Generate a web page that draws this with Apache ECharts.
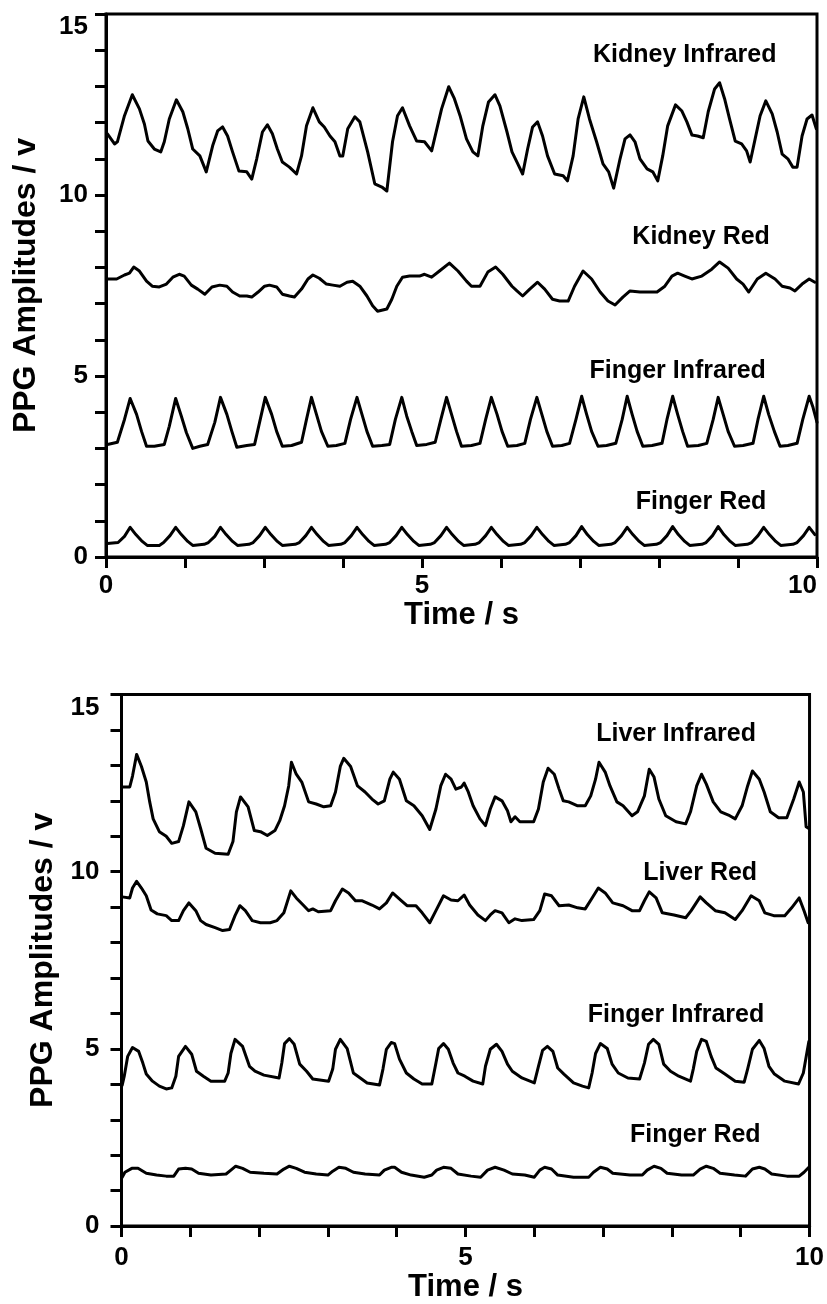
<!DOCTYPE html>
<html>
<head>
<meta charset="utf-8">
<script src="https://cdn.jsdelivr.net/npm/echarts@6/dist/echarts.min.js"></script>
<style>
html,body{margin:0;padding:0;background:#fff;}
#chart{width:827px;height:1304px;}
</style>
</head>
<body>
<div id="chart"></div>
<script>
// ---------- Data (time in s, amplitude in V) ----------
const kidneyInfrared = [[0.02,11.69],[0.12,11.41],[0.16,11.47],[0.26,12.19],[0.37,12.77],[0.47,12.38],[0.54,11.96],[0.59,11.49],[0.68,11.27],[0.77,11.19],[0.82,11.47],[0.89,12.10],[0.99,12.63],[1.08,12.30],[1.15,11.83],[1.22,11.27],[1.32,11.08],[1.41,10.64],[1.50,11.36],[1.57,11.77],[1.64,11.88],[1.71,11.63],[1.78,11.19],[1.87,10.66],[1.98,10.64],[2.05,10.44],[2.12,11.00],[2.20,11.74],[2.27,11.94],[2.34,11.69],[2.41,11.27],[2.48,10.91],[2.58,10.77],[2.68,10.58],[2.75,11.08],[2.82,11.91],[2.91,12.41],[3.00,12.02],[3.07,11.88],[3.15,11.63],[3.22,11.47],[3.29,11.08],[3.33,11.08],[3.40,11.83],[3.50,12.16],[3.57,12.02],[3.68,11.19],[3.78,10.31],[3.88,10.22],[3.95,10.11],[4.03,11.47],[4.10,12.19],[4.17,12.41],[4.27,11.91],[4.37,11.49],[4.48,11.47],[4.58,11.22],[4.62,11.55],[4.72,12.38],[4.82,12.99],[4.90,12.66],[4.98,12.19],[5.07,11.55],[5.16,11.19],[5.23,11.08],[5.30,11.91],[5.38,12.57],[5.47,12.77],[5.54,12.46],[5.64,11.74],[5.71,11.19],[5.78,10.91],[5.86,10.58],[5.93,11.27],[6.00,11.88],[6.07,12.02],[6.14,11.63],[6.21,11.08],[6.31,10.58],[6.43,10.53],[6.49,10.39],[6.57,11.08],[6.64,12.10],[6.72,12.71],[6.80,12.10],[6.90,11.47],[6.99,10.86],[7.07,10.64],[7.14,10.19],[7.23,11.00],[7.30,11.55],[7.37,11.66],[7.44,11.47],[7.51,11.00],[7.61,10.72],[7.69,10.64],[7.76,10.39],[7.83,11.08],[7.90,11.91],[8.01,12.49],[8.10,12.32],[8.17,12.02],[8.24,11.66],[8.32,11.63],[8.40,11.58],[8.47,12.30],[8.56,12.93],[8.63,13.10],[8.70,12.66],[8.77,12.10],[8.85,11.49],[8.94,11.41],[9.01,11.22],[9.06,10.91],[9.13,11.55],[9.20,12.19],[9.28,12.60],[9.37,12.24],[9.44,11.74],[9.51,11.13],[9.59,11.00],[9.66,10.77],[9.72,10.77],[9.79,11.63],[9.86,12.10],[9.93,12.21],[9.99,11.83]];

const kidneyRed = [[0.02,7.68],[0.15,7.68],[0.26,7.79],[0.33,7.84],[0.39,8.01],[0.47,7.90],[0.57,7.62],[0.65,7.48],[0.75,7.46],[0.85,7.54],[0.94,7.73],[1.03,7.81],[1.10,7.76],[1.20,7.51],[1.29,7.40],[1.39,7.26],[1.49,7.46],[1.60,7.51],[1.70,7.48],[1.78,7.32],[1.88,7.21],[1.98,7.21],[2.05,7.18],[2.14,7.32],[2.23,7.48],[2.30,7.51],[2.40,7.46],[2.48,7.26],[2.58,7.21],[2.65,7.18],[2.75,7.40],[2.84,7.68],[2.91,7.79],[3.00,7.70],[3.10,7.54],[3.19,7.51],[3.29,7.48],[3.39,7.59],[3.47,7.62],[3.57,7.48],[3.67,7.21],[3.75,6.94],[3.82,6.79],[3.95,6.85],[4.02,7.12],[4.09,7.48],[4.17,7.73],[4.27,7.76],[4.41,7.76],[4.48,7.81],[4.58,7.73],[4.69,7.90],[4.83,8.12],[4.95,7.90],[5.07,7.62],[5.14,7.48],[5.26,7.48],[5.37,7.87],[5.48,8.01],[5.58,7.81],[5.71,7.48],[5.78,7.35],[5.86,7.21],[5.96,7.40],[6.07,7.59],[6.17,7.40],[6.28,7.12],[6.38,7.07],[6.50,7.07],[6.59,7.48],[6.71,7.90],[6.83,7.68],[6.95,7.32],[7.06,7.07],[7.16,6.96],[7.27,7.18],[7.37,7.35],[7.51,7.32],[7.61,7.32],[7.75,7.32],[7.86,7.48],[7.96,7.76],[8.04,7.84],[8.14,7.76],[8.24,7.68],[8.38,7.76],[8.52,7.95],[8.63,8.15],[8.75,7.98],[8.87,7.68],[8.96,7.54],[9.04,7.32],[9.16,7.68],[9.28,7.84],[9.41,7.68],[9.51,7.48],[9.62,7.43],[9.69,7.35],[9.79,7.54],[9.89,7.68],[9.97,7.59]];

const fingerInfraredTop = [[0.02,3.11],[0.16,3.17],[0.26,3.80],[0.34,4.38],[0.43,3.94],[0.50,3.47],[0.57,3.06],[0.68,3.06],[0.82,3.11],[0.89,3.61],[0.98,4.38],[1.06,3.89],[1.13,3.44],[1.22,3.00],[1.32,3.06],[1.43,3.11],[1.53,3.72],[1.61,4.41],[1.70,3.94],[1.77,3.47],[1.84,3.03],[1.98,3.08],[2.09,3.11],[2.16,3.72],[2.24,4.41],[2.33,3.94],[2.40,3.47],[2.48,3.06],[2.61,3.08],[2.75,3.17],[2.82,3.80],[2.89,4.41],[2.96,3.94],[3.03,3.47],[3.12,3.06],[3.24,3.08],[3.36,3.14],[3.44,3.80],[3.53,4.41],[3.60,3.94],[3.67,3.47],[3.75,3.06],[3.88,3.08],[3.99,3.11],[4.07,3.80],[4.16,4.41],[4.23,3.89],[4.30,3.47],[4.37,3.08],[4.51,3.11],[4.63,3.17],[4.71,3.80],[4.79,4.41],[4.86,3.94],[4.93,3.47],[5.00,3.06],[5.14,3.08],[5.26,3.14],[5.34,3.80],[5.42,4.41],[5.50,3.94],[5.57,3.47],[5.65,3.06],[5.78,3.08],[5.89,3.14],[5.97,3.80],[6.06,4.41],[6.13,3.94],[6.20,3.47],[6.28,3.06],[6.41,3.08],[6.52,3.14],[6.61,3.80],[6.69,4.44],[6.76,3.94],[6.83,3.47],[6.92,3.06],[7.04,3.08],[7.17,3.14],[7.26,3.80],[7.33,4.44],[7.40,3.94],[7.47,3.47],[7.55,3.06],[7.68,3.08],[7.82,3.14],[7.89,3.80],[7.97,4.44],[8.04,3.94],[8.11,3.47],[8.18,3.06],[8.33,3.08],[8.45,3.14],[8.54,3.80],[8.61,4.41],[8.68,3.94],[8.75,3.47],[8.84,3.06],[8.96,3.08],[9.10,3.14],[9.17,3.80],[9.25,4.44],[9.32,3.94],[9.40,3.47],[9.48,3.06],[9.59,3.08],[9.72,3.14],[9.80,3.80],[9.89,4.44],[9.94,4.16],[10.0,3.72]];

const fingerRedTop = [[0.02,0.37],[0.17,0.40],[0.26,0.57],[0.34,0.82],[0.42,0.62],[0.51,0.43],[0.58,0.32],[0.75,0.32],[0.81,0.40],[0.90,0.59],[0.98,0.82],[1.06,0.62],[1.15,0.43],[1.22,0.32],[1.38,0.35],[1.44,0.40],[1.53,0.57],[1.61,0.82],[1.69,0.62],[1.78,0.43],[1.85,0.32],[2.01,0.35],[2.07,0.40],[2.16,0.59],[2.24,0.82],[2.32,0.62],[2.41,0.43],[2.48,0.32],[2.66,0.35],[2.72,0.40],[2.81,0.59],[2.89,0.82],[2.97,0.62],[3.06,0.43],[3.13,0.32],[3.30,0.35],[3.36,0.40],[3.45,0.59],[3.53,0.82],[3.61,0.62],[3.70,0.43],[3.77,0.32],[3.93,0.35],[3.99,0.40],[4.08,0.59],[4.16,0.82],[4.24,0.62],[4.33,0.43],[4.40,0.32],[4.56,0.35],[4.62,0.40],[4.71,0.59],[4.79,0.82],[4.87,0.62],[4.96,0.43],[5.03,0.32],[5.19,0.35],[5.25,0.40],[5.34,0.59],[5.42,0.82],[5.50,0.62],[5.59,0.43],[5.66,0.32],[5.83,0.35],[5.89,0.40],[5.98,0.59],[6.06,0.82],[6.14,0.62],[6.23,0.43],[6.30,0.32],[6.46,0.35],[6.52,0.40],[6.61,0.59],[6.69,0.84],[6.77,0.62],[6.86,0.43],[6.93,0.32],[7.10,0.35],[7.16,0.40],[7.25,0.59],[7.33,0.82],[7.41,0.62],[7.50,0.43],[7.57,0.32],[7.74,0.35],[7.80,0.40],[7.89,0.59],[7.97,0.84],[8.05,0.62],[8.14,0.43],[8.21,0.32],[8.38,0.35],[8.44,0.40],[8.53,0.59],[8.61,0.84],[8.69,0.62],[8.78,0.43],[8.85,0.32],[9.02,0.35],[9.08,0.40],[9.17,0.59],[9.25,0.82],[9.33,0.62],[9.42,0.43],[9.49,0.32],[9.66,0.35],[9.72,0.40],[9.81,0.59],[9.89,0.82],[9.97,0.62]];

const liverInfrared = [[0.01,12.39],[0.12,12.39],[0.16,12.70],[0.22,13.31],[0.29,12.97],[0.36,12.53],[0.41,11.97],[0.46,11.49],[0.55,11.13],[0.65,11.00],[0.73,10.80],[0.83,10.85],[0.90,11.30],[0.98,11.97],[1.08,11.69],[1.15,11.22],[1.23,10.66],[1.36,10.52],[1.55,10.49],[1.62,10.85],[1.67,11.69],[1.73,12.11],[1.84,11.83],[1.93,11.16],[2.02,11.13],[2.12,11.02],[2.23,11.16],[2.30,11.44],[2.37,11.86],[2.43,12.42],[2.47,13.09],[2.54,12.75],[2.62,12.53],[2.72,11.97],[2.83,11.91],[2.94,11.83],[3.04,11.86],[3.11,12.25],[3.18,12.97],[3.23,13.20],[3.33,12.97],[3.43,12.42],[3.54,12.25],[3.64,12.05],[3.73,11.91],[3.82,12.00],[3.90,12.61],[3.95,12.81],[4.04,12.61],[4.14,12.00],[4.25,11.86],[4.37,11.58],[4.48,11.19],[4.57,11.77],[4.64,12.42],[4.71,12.75],[4.79,12.61],[4.86,12.33],[4.94,12.39],[4.98,12.50],[5.04,12.25],[5.11,11.86],[5.21,11.49],[5.29,11.30],[5.36,11.77],[5.43,12.11],[5.53,12.00],[5.61,11.72],[5.66,11.41],[5.72,11.55],[5.79,11.41],[5.99,11.41],[6.06,11.77],[6.13,12.53],[6.20,12.92],[6.29,12.75],[6.36,12.33],[6.42,12.00],[6.50,11.97],[6.63,11.86],[6.74,11.86],[6.82,12.14],[6.89,12.61],[6.94,13.09],[7.03,12.81],[7.10,12.42],[7.20,11.97],[7.29,11.86],[7.42,11.58],[7.50,11.69],[7.60,12.14],[7.67,12.89],[7.74,12.67],[7.81,12.05],[7.91,11.58],[8.06,11.41],[8.20,11.35],[8.27,11.69],[8.36,12.42],[8.43,12.75],[8.50,12.47],[8.60,11.97],[8.71,11.69],[8.84,11.58],[8.92,11.49],[9.02,11.86],[9.10,12.42],[9.17,12.84],[9.27,12.61],[9.34,12.25],[9.43,11.69],[9.55,11.52],[9.67,11.52],[9.77,12.05],[9.85,12.53],[9.91,12.25],[9.95,11.27],[9.99,11.22]];

const liverRed = [[0.01,9.29],[0.12,9.26],[0.16,9.54],[0.22,9.73],[0.29,9.54],[0.36,9.32],[0.43,8.92],[0.52,8.81],[0.65,8.76],[0.73,8.62],[0.83,8.62],[0.90,8.90],[0.98,9.12],[1.08,8.90],[1.15,8.62],[1.23,8.51],[1.36,8.42],[1.47,8.34],[1.57,8.37],[1.65,8.76],[1.72,9.04],[1.80,8.90],[1.90,8.62],[2.02,8.56],[2.16,8.56],[2.26,8.62],[2.36,8.84],[2.46,9.46],[2.54,9.26],[2.64,9.06],[2.72,8.90],[2.78,8.95],[2.86,8.87],[3.04,8.90],[3.11,9.18],[3.21,9.51],[3.30,9.40],[3.40,9.18],[3.50,9.18],[3.64,9.06],[3.75,8.95],[3.85,9.12],[3.94,9.40],[4.07,9.18],[4.15,9.04],[4.28,9.04],[4.37,8.84],[4.48,8.56],[4.57,8.90],[4.68,9.32],[4.79,9.20],[4.89,9.18],[4.98,9.34],[5.06,9.06],[5.18,8.78],[5.29,8.62],[5.36,8.78],[5.43,8.90],[5.53,8.84],[5.63,8.56],[5.72,8.67],[5.82,8.62],[5.99,8.65],[6.08,8.90],[6.15,9.37],[6.25,9.32],[6.36,9.04],[6.50,9.06],[6.63,8.98],[6.74,8.95],[6.84,9.26],[6.93,9.54],[7.03,9.40],[7.14,9.12],[7.29,9.04],[7.42,8.90],[7.53,8.90],[7.60,9.18],[7.67,9.43],[7.77,9.26],[7.86,8.84],[8.03,8.78],[8.20,8.70],[8.28,8.90],[8.41,9.29],[8.50,9.12],[8.63,8.90],[8.77,8.84],[8.92,8.65],[9.02,8.90],[9.15,9.32],[9.27,9.18],[9.35,8.84],[9.48,8.76],[9.64,8.76],[9.74,8.98],[9.85,9.26],[9.92,8.90],[9.98,8.56]];

const fingerInfraredBottom = [[0.01,3.98],[0.04,4.23],[0.09,4.79],[0.16,5.04],[0.25,4.93],[0.31,4.60],[0.36,4.29],[0.45,4.09],[0.55,3.95],[0.65,3.87],[0.73,3.90],[0.79,4.23],[0.83,4.79],[0.93,5.07],[1.02,4.85],[1.09,4.37],[1.19,4.23],[1.30,4.09],[1.50,4.09],[1.55,4.32],[1.59,4.87],[1.65,5.27],[1.76,5.07],[1.86,4.51],[1.94,4.37],[2.07,4.26],[2.29,4.18],[2.33,4.60],[2.37,5.15],[2.44,5.29],[2.51,5.13],[2.59,4.57],[2.69,4.37],[2.78,4.15],[3.01,4.09],[3.07,4.43],[3.11,4.99],[3.18,5.27],[3.28,5.01],[3.37,4.32],[3.47,4.18],[3.57,4.04],[3.75,3.98],[3.80,4.43],[3.85,4.99],[3.92,5.18],[3.97,5.15],[4.04,4.71],[4.14,4.32],[4.25,4.15],[4.37,4.01],[4.51,4.01],[4.57,4.60],[4.61,5.01],[4.68,5.15],[4.75,4.99],[4.82,4.60],[4.89,4.32],[4.99,4.23],[5.11,4.09],[5.25,4.01],[5.29,4.51],[5.36,4.99],[5.45,5.13],[5.53,4.93],[5.61,4.57],[5.68,4.37],[5.82,4.18],[6.00,4.04],[6.06,4.51],[6.12,4.96],[6.19,5.07],[6.27,4.93],[6.34,4.46],[6.43,4.29],[6.57,4.04],[6.70,3.95],[6.79,3.90],[6.84,4.32],[6.89,4.87],[6.96,5.15],[7.06,5.01],[7.13,4.57],[7.22,4.32],[7.36,4.18],[7.53,4.15],[7.60,4.60],[7.66,5.13],[7.73,5.27],[7.81,5.13],[7.88,4.57],[7.98,4.37],[8.10,4.23],[8.27,4.09],[8.31,4.43],[8.36,4.93],[8.43,5.27],[8.50,5.21],[8.57,4.79],[8.64,4.46],[8.77,4.29],[8.92,4.09],[9.05,4.06],[9.10,4.43],[9.17,4.99],[9.27,5.24],[9.34,5.01],[9.41,4.51],[9.49,4.29],[9.64,4.09],[9.84,4.01],[9.91,4.32],[9.97,4.99],[9.99,5.21]];

const fingerRedBottom = [[0.01,1.38],[0.05,1.52],[0.15,1.63],[0.24,1.63],[0.36,1.49],[0.51,1.44],[0.65,1.41],[0.76,1.41],[0.83,1.61],[0.93,1.63],[1.02,1.61],[1.12,1.49],[1.30,1.44],[1.52,1.47],[1.59,1.58],[1.66,1.69],[1.76,1.63],[1.87,1.52],[2.07,1.49],[2.26,1.47],[2.36,1.61],[2.44,1.69],[2.54,1.63],[2.66,1.52],[2.83,1.47],[3.00,1.44],[3.07,1.55],[3.16,1.66],[3.26,1.63],[3.37,1.52],[3.54,1.47],[3.75,1.44],[3.82,1.58],[3.92,1.66],[3.97,1.66],[4.07,1.52],[4.21,1.44],[4.40,1.38],[4.51,1.44],[4.58,1.58],[4.68,1.66],[4.79,1.63],[4.89,1.47],[5.08,1.41],[5.22,1.38],[5.32,1.58],[5.43,1.66],[5.56,1.58],[5.68,1.47],[5.86,1.44],[6.00,1.38],[6.08,1.58],[6.15,1.66],[6.25,1.61],[6.34,1.44],[6.57,1.38],[6.79,1.38],[6.86,1.52],[6.96,1.66],[7.06,1.61],[7.14,1.49],[7.39,1.44],[7.57,1.44],[7.64,1.58],[7.74,1.69],[7.84,1.63],[7.93,1.49],[8.14,1.44],[8.31,1.44],[8.41,1.61],[8.50,1.69],[8.60,1.63],[8.70,1.49],[8.91,1.44],[9.07,1.41],[9.17,1.61],[9.27,1.66],[9.35,1.61],[9.45,1.47],[9.67,1.41],[9.85,1.41],[9.92,1.52],[9.99,1.66]];

// ---------- Text labels ----------
const topTraceNames = ['Kidney Infrared', 'Kidney Red', 'Finger Infrared', 'Finger Red'];
const topTraceLabelAt = [[8.14,13.87],[8.37,8.84],[8.04,5.13],[8.37,1.51]];
const bottomTraceNames = ['Liver Infrared', 'Liver Red', 'Finger Infrared', 'Finger Red'];
const bottomTraceLabelAt = [[8.06,13.87],[8.41,9.96],[8.06,5.96],[8.34,2.58]];

// ---------- Tick values / labels ----------
const topXTickValues = [0, 1.1111, 2.2222, 3.3333, 4.4444, 5.5556, 6.6667, 7.7778, 8.8889, 10];
const topXLabelValues = [0, 4.4444, 10];
const topXLabelTexts = ['0', '5', '10'];
const bottomXLabelValues = [0, 5, 10];
const yLabelValues = [0, 5, 10, 15];
const yAxisTitle = 'PPG Amplitudes / v';
const xAxisTitle = 'Time / s';

const FONT = 'Liberation Sans, Arial, Helvetica, sans-serif';
const BLACK = '#000';

function xAxisBase(gridIndex, gap) {
  return {
    type: 'value', gridIndex: gridIndex, min: 0, max: 10,
    name: xAxisTitle, nameLocation: 'middle', nameGap: gap,
    nameTextStyle: { fontFamily: FONT, fontSize: 31, fontWeight: 'bold', color: BLACK },
    axisLine: { show: true, onZero: false, lineStyle: { color: BLACK, width: 3 } },
    axisTick: { show: true, inside: false, length: 11, lineStyle: { color: BLACK, width: 3 } },
    splitLine: { show: false },
    axisLabel: { fontFamily: FONT, fontSize: 26, fontWeight: 'bold', color: BLACK, margin: 16 }
  };
}
function yAxisBase(gridIndex, margin, gap) {
  return {
    type: 'value', gridIndex: gridIndex, min: 0, max: 15, interval: 1,
    name: yAxisTitle, nameLocation: 'middle', nameGap: gap, nameRotate: 90,
    nameTextStyle: { fontFamily: FONT, fontSize: 32, fontWeight: 'bold', color: BLACK },
    axisLine: { show: true, onZero: false, lineStyle: { color: BLACK, width: 3 } },
    axisTick: { show: true, inside: false, length: 11, lineStyle: { color: BLACK, width: 3 } },
    splitLine: { show: false },
    axisLabel: {
      fontFamily: FONT, fontSize: 26, fontWeight: 'bold', color: BLACK, margin: margin,
      customValues: yLabelValues,
      verticalAlignMaxLabel: 'top'
    }
  };
}

const topX = xAxisBase(0, 37);
topX.axisTick.customValues = topXTickValues;
topX.axisLabel.customValues = topXLabelValues;
topX.axisLabel.alignMaxLabel = 'right';
topX.axisLabel.formatter = function (v) {
  const i = topXLabelValues.findIndex(function (a) { return Math.abs(a - v) < 1e-3; });
  return i >= 0 ? topXLabelTexts[i] : '';
};
const bottomX = xAxisBase(1, 43);
bottomX.interval = 1;
bottomX.axisLabel.customValues = bottomXLabelValues;
bottomX.axisLabel.margin = 19;

function trace(data, gi) {
  return {
    type: 'line', xAxisIndex: gi, yAxisIndex: gi, data: data,
    showSymbol: false, symbol: 'none', smooth: false, silent: true,
    lineStyle: { color: BLACK, width: 3, join: 'round', cap: 'round' }
  };
}
function labelSeries(names, pos, gi) {
  return {
    type: 'scatter', xAxisIndex: gi, yAxisIndex: gi, silent: true,
    symbol: 'circle', symbolSize: 2, itemStyle: { color: 'rgba(255,255,255,0)' },
    z: 5,
    data: names.map(function (n, i) { return [pos[i][0], pos[i][1], n]; }),
    label: {
      show: true, position: 'inside',
      formatter: function (p) { return p.value[2]; },
      fontFamily: FONT, fontSize: 25, fontWeight: 'bold', color: BLACK,
      textBorderWidth: 0, textBorderColor: 'transparent', opacity: 1
    },
    labelLayout: { hideOverlap: false }
  };
}

const chart = echarts.init(document.getElementById('chart'), null, { renderer: 'canvas' });
chart.setOption({
  animation: false,
  backgroundColor: '#fff',
  grid: [
    { left: 106, right: 10, top: 14, height: 543, show: true, borderColor: BLACK, borderWidth: 3, backgroundColor: 'transparent' },
    { left: 121.5, right: 3, top: 694.5, height: 537, show: true, borderColor: BLACK, borderWidth: 3, backgroundColor: 'transparent' }
  ],
  xAxis: [topX, bottomX],
  yAxis: [yAxisBase(0, 18, 64), yAxisBase(1, 22, 62)],
  series: [
    trace(kidneyInfrared, 0), trace(kidneyRed, 0), trace(fingerInfraredTop, 0), trace(fingerRedTop, 0),
    trace(liverInfrared, 1), trace(liverRed, 1), trace(fingerInfraredBottom, 1), trace(fingerRedBottom, 1),
    labelSeries(topTraceNames, topTraceLabelAt, 0),
    labelSeries(bottomTraceNames, bottomTraceLabelAt, 1)
  ]
});
</script>
</body>
</html>
